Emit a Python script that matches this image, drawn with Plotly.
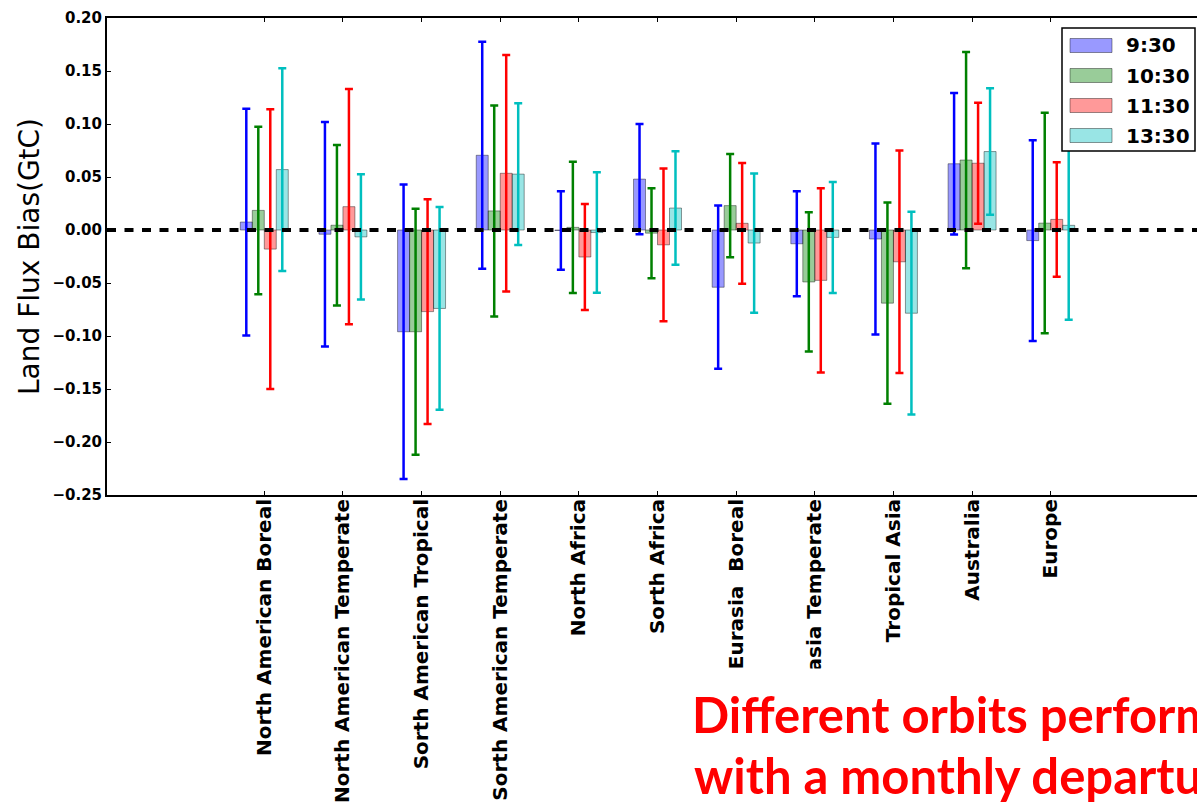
import plotly.graph_objects as go

categories = ["North American Boreal", "North American Temperate", "Sorth American Tropical",
              "Sorth American Temperate", "North Africa", "Sorth Africa", "Eurasia\u00a0 Boreal",
              "Eurasia Temperate", "Tropical Asia", "Australia", "Europe"]

series_names = ["9:30", "10:30", "11:30", "13:30"]

bias_0930 = [0.0075, -0.004, -0.096, 0.0705, -0.0005, 0.048, -0.054, -0.013, -0.0085, 0.0625, -0.010]
err_0930 = [0.107, 0.106, 0.139, 0.107, 0.037, 0.052, 0.077, 0.0495, 0.090, 0.0667, 0.0946]

bias_1030 = [0.0185, 0.0045, -0.096, 0.018, 0.0025, -0.003, 0.023, -0.049, -0.069, 0.066, 0.0065]
err_1030 = [0.079, 0.0757, 0.116, 0.0995, 0.062, 0.0425, 0.0486, 0.0657, 0.095, 0.102, 0.104]

bias_1130 = [-0.018, 0.022, -0.077, 0.0535, -0.0255, -0.014, 0.0063, -0.0475, -0.030, 0.063, 0.010]
err_1130 = [0.132, 0.111, 0.106, 0.1115, 0.050, 0.072, 0.057, 0.087, 0.105, 0.057, 0.054]

bias_1330 = [0.057, -0.0065, -0.074, 0.0527, -0.0024, 0.0207, -0.0123, -0.007, -0.0785, 0.074, 0.0044]
err_1330 = [0.0956, 0.059, 0.0956, 0.0668, 0.0568, 0.0535, 0.0657, 0.0524, 0.0956, 0.0597, 0.089]

y_ticks = [-0.25, -0.20, -0.15, -0.10, -0.05, 0.00, 0.05, 0.10, 0.15, 0.20]

values = [bias_0930, bias_1030, bias_1130, bias_1330]
errors = [err_0930, err_1030, err_1130, err_1330]
fills = ["rgba(0,0,255,0.4)", "rgba(0,128,0,0.4)", "rgba(255,0,0,0.4)", "rgba(0,191,191,0.4)"]
err_colors = ["#0000ff", "#008000", "#ff0000", "#00bfbf"]
edge_color = "rgba(0,0,0,0.4)"

W, H = 1197, 804
ML, MR, MT, MB = 107, 0, 18, 309
PW, PH = W - ML - MR, H - MT - MB


def px_x(p):
    return (p - ML) / PW


def px_y(p):
    return (H - MB - p) / PH


fig = go.Figure()
for name, vals, errs, fc, ec in zip(series_names, values, errors, fills, err_colors):
    fig.add_trace(go.Bar(
        x=categories, y=vals, name=name, showlegend=False,
        marker=dict(color=fc, line=dict(color=edge_color, width=1)),
        error_y=dict(type="data", array=errs, visible=True, color=ec, thickness=2.5, width=4),
    ))

# zero reference line
fig.add_shape(type="line", xref="paper", yref="y", x0=0, x1=1, y0=0, y1=0,
              line=dict(color="black", width=4, dash="9px,8.5px"), layer="above")

# legend box (matplotlib style: long patches, bold labels)
LEG_L, LEG_R, LEG_T, LEG_B = 1062, 1195, 28, 151
fig.add_shape(type="rect", xref="paper", yref="paper",
              x0=px_x(LEG_L), x1=px_x(LEG_R), y0=px_y(LEG_B), y1=px_y(LEG_T),
              fillcolor="white", line=dict(color="black", width=1.5), layer="above")
row_step = 30
for i, (name, fc) in enumerate(zip(series_names, fills)):
    cy = 45.5 + i * row_step
    fig.add_shape(type="rect", xref="paper", yref="paper",
                  x0=px_x(1070), x1=px_x(1112), y0=px_y(cy + 7), y1=px_y(cy - 7),
                  fillcolor=fc, line=dict(color=edge_color, width=1), layer="above")
    fig.add_annotation(xref="paper", yref="paper", x=px_x(1124), y=px_y(cy),
                       xanchor="left", yanchor="middle", showarrow=False, text=name,
                       font=dict(family="DejaVu Sans", size=20, color="black", weight="bold"))

fig.update_layout(
    width=W, height=H,
    margin=dict(l=ML, r=MR, t=MT, b=MB, autoexpand=False),
    paper_bgcolor="white", plot_bgcolor="white",
    barmode="group", bargap=0.39, bargroupgap=0,
    showlegend=False,
    xaxis=dict(
        type="category", range=[-2, 11.86],
        showline=True, linecolor="black", linewidth=2, mirror="allticks",
        ticks="inside", ticklen=4, tickcolor="black", tickwidth=1,
        tickangle=-90, showgrid=False, zeroline=False, automargin=False,
        ticklabelstandoff=-6,
        tickfont=dict(family="DejaVu Sans", size=20, color="black", weight="bold"),
    ),
    yaxis=dict(
        range=[-0.25, 0.20], tickvals=y_ticks, tickformat=".2f",
        showline=True, linecolor="black", linewidth=2, mirror=False,
        ticks="inside", ticklen=4, tickcolor="black", tickwidth=1,
        showgrid=False, zeroline=False, automargin=False,
        tickfont=dict(family="DejaVu Sans", size=15, color="black", weight="bold"),
        title=dict(text="Land Flux Bias(GtC)", standoff=5,
                   font=dict(family="DejaVu Sans", size=28, color="black")),
    ),
)

fig.add_annotation(
    xref="paper", yref="paper", x=px_x(675), y=px_y(714),
    xanchor="left", yanchor="middle", showarrow=False,
    text="Different orbits perform", align="left",
    font=dict(family="Lato", size=49, color="#ff0000", weight="bold"),
    bgcolor="white", borderpad=16,
)
fig.add_annotation(
    xref="paper", yref="paper", x=px_x(692), y=px_y(775),
    xanchor="left", yanchor="middle", showarrow=False,
    text="with a monthly departure", align="left",
    font=dict(family="Lato", size=49, color="#ff0000", weight="bold"),
)

fig.write_html("out.html")
